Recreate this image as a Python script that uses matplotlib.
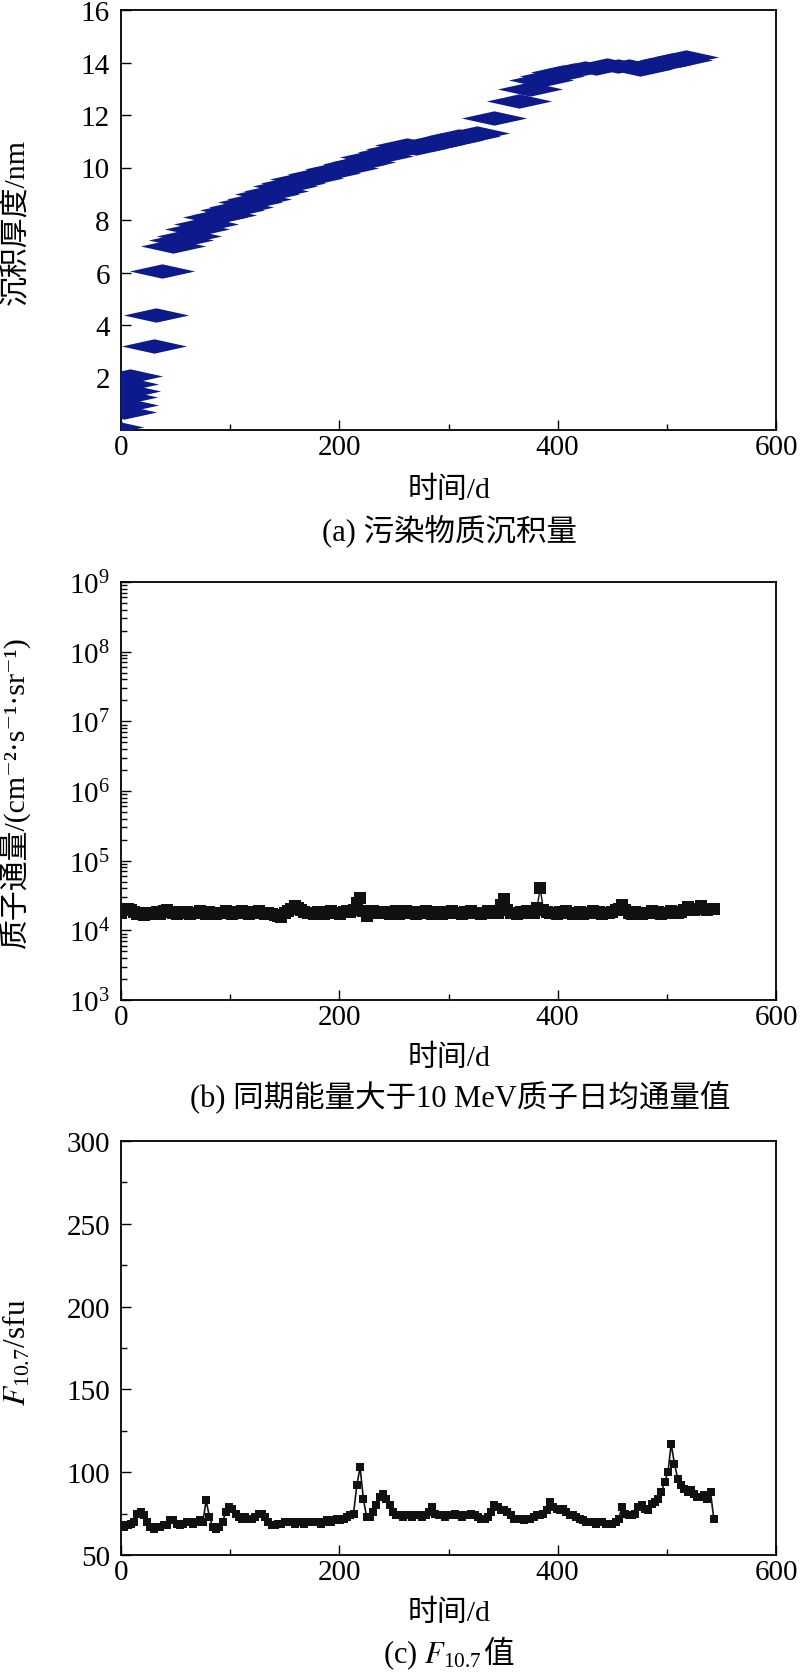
import numpy as np
import matplotlib
matplotlib.use('Agg')
import matplotlib.pyplot as plt
from matplotlib.path import Path
from matplotlib.ticker import LogLocator, NullFormatter, FixedLocator

plt.rcParams['font.family'] = ['Liberation Serif', 'Noto Sans CJK SC', 'DejaVu Serif']
plt.rcParams['mathtext.fontset'] = 'stix'
plt.rcParams['axes.unicode_minus'] = False

# ---------------- data ----------------
# (a) deposit thickness (nm) vs day
deposit_day = [-9, 3, 5, 4, 6, 5, 8, 30, 32, 38,
               48, 55, 62, 70, 78, 86, 94, 102, 110, 118,
               126, 134, 142, 150, 158, 166, 174, 182, 190, 198,
               206, 214, 222, 230, 238, 246, 254, 262, 270, 278,
               286, 294, 302, 310, 318, 326, 342, 365, 375, 385,
               395, 405, 415, 425, 435, 445, 455, 465, 475, 485,
               495, 505, 512, 518]
deposit_nm = [0.1, 0.7, 0.95, 1.25, 1.5, 1.75, 2.05, 3.2, 4.4, 6.05,
              7.0, 7.25, 7.4, 7.65, 7.85, 8.1, 8.2, 8.4, 8.5, 8.7,
              8.8, 9.0, 9.1, 9.3, 9.4, 9.55, 9.6, 9.75, 9.8, 9.95,
              10.0, 10.15, 10.2, 10.4, 10.45, 10.6, 10.7, 10.85, 10.75, 10.85,
              10.9, 11.05, 11.05, 11.2, 11.2, 11.3, 11.9, 12.55, 13.0, 13.35,
              13.5, 13.65, 13.7, 13.8, 13.8, 13.9, 13.85, 13.85, 13.75, 13.9,
              13.95, 14.1, 14.1, 14.2]

# (b) daily proton flux >10 MeV (x 1e4 cm^-2 s^-1 sr^-1), every 3 days
flux_day = list(range(0, 546, 3))
flux_1e4 = [1.80, 1.95, 2.00, 1.95, 1.85, 1.70, 1.75, 1.65, 1.75, 1.70,
            1.75, 1.85, 1.70, 1.90, 1.95, 1.85, 1.80, 1.70, 1.85, 1.75,
            1.85, 1.70, 1.80, 1.75, 1.90, 1.80, 1.70, 1.85, 1.75, 1.70,
            1.80, 1.75, 1.90, 1.80, 1.70, 1.85, 1.75, 1.90, 1.80, 1.70,
            1.85, 1.75, 1.90, 1.80, 1.70, 1.80, 1.70, 1.65, 1.60, 1.55,
            1.75, 1.90, 2.05, 2.20, 2.10, 1.95, 1.85, 1.75, 1.80, 1.70,
            1.85, 1.75, 1.70, 1.85, 1.90, 1.75, 1.80, 1.70, 1.85, 1.90,
            1.85, 1.95, 2.45, 2.95, 1.90, 1.60, 1.75, 1.90, 1.85, 1.80,
            1.75, 1.85, 1.70, 1.80, 1.90, 1.70, 1.80, 1.90, 1.75, 1.85,
            1.70, 1.80, 1.85, 1.90, 1.75, 1.70, 1.85, 1.80, 1.70, 1.85,
            1.75, 1.90, 1.80, 1.75, 1.70, 1.85, 1.80, 1.90, 1.75, 1.80,
            1.70, 1.80, 1.90, 1.75, 1.90, 1.80, 2.30, 2.80, 1.95, 1.75,
            1.80, 1.70, 1.85, 1.75, 1.90, 1.80, 1.75, 2.10, 4.00, 1.95,
            1.85, 1.75, 1.80, 1.70, 1.85, 1.80, 1.90, 1.75, 1.70, 1.80,
            1.85, 1.70, 1.80, 1.75, 1.90, 1.80, 1.85, 1.70, 1.80, 1.75,
            1.85, 1.95, 2.05, 2.30, 1.95, 1.80, 1.70, 1.85, 1.75, 1.70,
            1.80, 1.75, 1.90, 1.80, 1.85, 1.70, 1.80, 1.75, 1.90, 1.80,
            1.75, 1.85, 1.95, 2.15, 2.05, 1.95, 2.05, 2.20, 2.00, 1.95,
            2.05, 2.00]

# (c) F10.7 (sfu), every 3 days
f107_day = list(range(0, 546, 3))
f107 = [68, 67, 68, 69, 70, 75, 76, 74, 70, 67,
        66, 67, 67, 68, 68, 71, 71, 69, 68, 69,
        70, 70, 69, 70, 71, 70, 83, 73, 67, 66,
        67, 70, 76, 79, 78, 75, 73, 72, 73, 72,
        72, 73, 75, 75, 73, 70, 68, 68, 69, 69,
        70, 70, 70, 69, 70, 70, 69, 70, 70, 70,
        70, 69, 70, 71, 70, 71, 72, 71, 72, 73,
        74, 75, 92, 103, 84, 73, 73, 76, 80, 85,
        87, 84, 80, 76, 74, 74, 73, 74, 74, 73,
        74, 74, 73, 74, 76, 79, 75, 74, 74, 73,
        74, 74, 75, 74, 73, 74, 74, 75, 74, 73,
        72, 72, 73, 76, 80, 79, 77, 77, 76, 74,
        72, 72, 72, 71, 72, 72, 73, 74, 74, 75,
        77, 82, 79, 78, 77, 78, 76, 74, 74, 73,
        72, 71, 70, 70, 70, 69, 70, 70, 69, 69,
        69, 70, 72, 79, 75, 74, 74, 75, 79, 80,
        78, 77, 81, 82, 84, 88, 94, 100, 117, 105,
        96, 92, 90, 88, 89, 87, 85, 85, 86, 84,
        88, 72]

x_ticks = [0, 200, 400, 600]
x_minor = [100, 300, 500]
a_yticks = [2, 4, 6, 8, 10, 12, 14, 16]
c_yticks = [50, 100, 150, 200, 250, 300]
c_yminor = [75, 125, 175, 225, 275]

# ---------------- figure ----------------
W, H = 800, 1681
fig = plt.figure(figsize=(W / 100, H / 100), dpi=100)


def rect(left, top, right, bottom):
    return [left / W, 1 - bottom / H, (right - left) / W, (bottom - top) / H]


def fx(x):
    return x / W


def fy(y):
    return 1 - y / H


TICK = 21
LAB = 21.5
CAP = 22


def style(ax):
    for s in ax.spines.values():
        s.set_linewidth(1.3)
        s.set_color('black')
    ax.tick_params(which='both', direction='in', top=False, right=False,
                   width=1.0, labelsize=TICK)
    ax.tick_params(which='major', length=7)
    ax.tick_params(which='minor', length=4)
    ax.tick_params(axis='y', which='both', pad=8)
    ax.tick_params(axis='x', which='both', pad=3)
    ax.set_xlim(0, 600)
    ax.xaxis.set_major_locator(FixedLocator(x_ticks))
    ax.xaxis.set_minor_locator(FixedLocator(x_minor))


# (a)
axa = fig.add_axes(rect(121, 11, 776, 431))
diamond = Path([(-1, 0), (0, 0.22), (1, 0), (0, -0.22), (-1, 0)],
               [Path.MOVETO, Path.LINETO, Path.LINETO, Path.LINETO, Path.CLOSEPOLY])
axa.plot(deposit_day, deposit_nm, linestyle='none', marker=diamond,
         markersize=47, markerfacecolor='#0c1a8c', markeredgewidth=0,
         zorder=3)
style(axa)
axa.set_ylim(0, 16)
axa.yaxis.set_major_locator(FixedLocator(a_yticks))

fig.text(fx(15), fy(222), '沉积厚度/nm', rotation=90, ha='center', va='center',
         fontsize=LAB)
fig.text(fx(449), fy(490), '时间/d', ha='center', va='center', fontsize=LAB)
fig.text(fx(450), fy(531), '(a) 污染物质沉积量', ha='center', va='center',
         fontsize=CAP)

# (b)
axb = fig.add_axes(rect(121, 583, 776, 1001))
axb.plot(flux_day, np.array(flux_1e4) * 1e4, color='#111111', linewidth=1.0,
         marker='s', markersize=8.5, markeredgewidth=0, zorder=3)
style(axb)
axb.set_yscale('log')
axb.set_ylim(1e3, 1e9)
axb.yaxis.set_major_locator(LogLocator(base=10, numticks=20))
axb.yaxis.set_minor_locator(LogLocator(base=10, subs=np.arange(2, 10), numticks=20))
axb.yaxis.set_minor_formatter(NullFormatter())

fig.text(fx(15), fy(792), '质子通量/(cm⁻²·s⁻¹·sr⁻¹)', rotation=90,
         ha='center', va='center', fontsize=LAB)
fig.text(fx(449), fy(1058), '时间/d', ha='center', va='center', fontsize=LAB)
fig.text(fx(460), fy(1097), '(b) 同期能量大于10 MeV质子日均通量值',
         ha='center', va='center', fontsize=CAP)

# (c)
axc = fig.add_axes(rect(121, 1142, 776, 1556))
axc.plot(f107_day, f107, color='#111111', linewidth=1.2,
         marker='s', markersize=6.2, markeredgewidth=0, zorder=3)
style(axc)
axc.set_ylim(50, 300)
axc.yaxis.set_major_locator(FixedLocator(c_yticks))
axc.yaxis.set_minor_locator(FixedLocator(c_yminor))

fig.text(fx(17), fy(1352), r'$F_{\mathregular{10.7}}$/sfu', rotation=90,
         ha='center', va='center', fontsize=LAB + 1)
fig.text(fx(449), fy(1613), '时间/d', ha='center', va='center', fontsize=LAB)
cap1 = fig.text(fx(383), fy(1663), r'(c) $F_{\mathregular{10.7}}$',
                ha='left', va='baseline', fontsize=CAP)
fig.canvas.draw()
bb = cap1.get_window_extent(renderer=fig.canvas.get_renderer())
fig.text(bb.x1 / W + 0.002, fy(1663), '值', ha='left', va='baseline',
         fontsize=CAP)

fig.savefig('out.png', dpi=100)
